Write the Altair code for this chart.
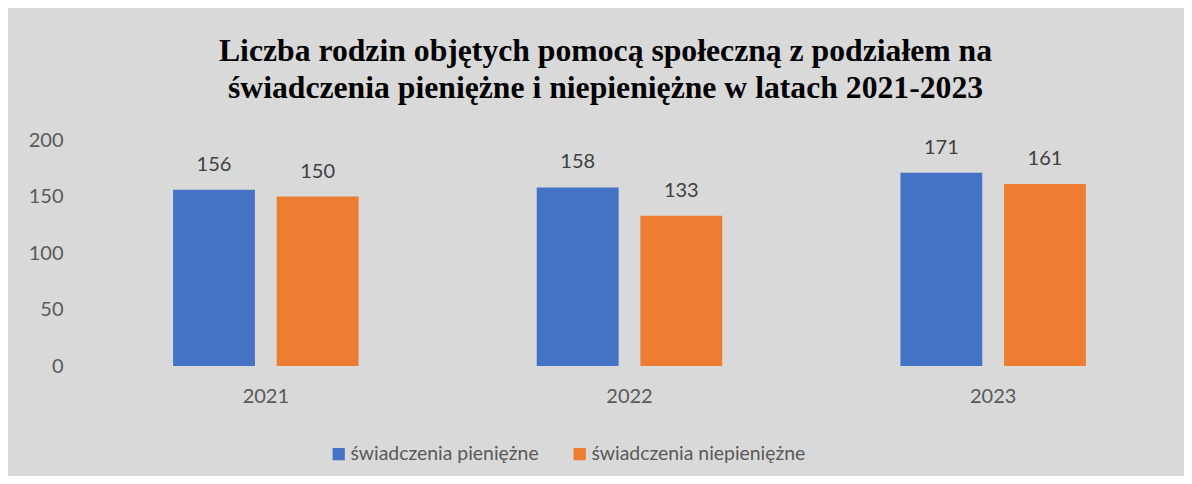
import altair as alt
import pandas as pd

years = ["2021", "2022", "2023"]
series = ["świadczenia pieniężne", "świadczenia niepieniężne"]
pieniezne = [156, 158, 171]
niepieniezne = [150, 133, 161]
colors = ["#4472C4", "#ED7D31"]

rows = []
for i, y in enumerate(years):
    rows.append({"rok": y, "seria": series[0], "wartosc": pieniezne[i]})
    rows.append({"rok": y, "seria": series[1], "wartosc": niepieniezne[i]})
df = pd.DataFrame(rows)

FONT = "Lato"
x = alt.X("rok:N", sort=years, title=None,
          scale=alt.Scale(paddingInner=0.49, paddingOuter=0.245),
          axis=alt.Axis(labelAngle=0, labelFont=FONT, labelFontSize=20,
                        labelColor="#595959", labelPadding=20, ticks=False,
                        domain=False, grid=False))
xoff = alt.XOffset("seria:N", sort=series,
                   scale=alt.Scale(paddingInner=0.21, paddingOuter=0))
y = alt.Y("wartosc:Q", title=None,
          scale=alt.Scale(domain=[0, 200], nice=False),
          axis=alt.Axis(values=[0, 50, 100, 150, 200], labelFont=FONT,
                        labelFontSize=20, labelColor="#595959", labelPadding=21,
                        ticks=False, domain=False, grid=False))
color = alt.Color("seria:N", sort=series,
                  scale=alt.Scale(domain=series, range=colors),
                  legend=alt.Legend(title=None, orient="none", direction="horizontal",
                                    legendX=245, legendY=304,
                                    symbolType="square", symbolSize=150,
                                    symbolStrokeWidth=0, labelFont=FONT,
                                    labelFontSize=19.4, labelColor="#595959",
                                    labelLimit=0,
                                    columnPadding=31, labelOffset=2))

base = alt.Chart(df).encode(x=x, xOffset=xoff, y=y)
bars = base.mark_bar().encode(color=color)
labels = base.mark_text(baseline="bottom", dy=-15, font=FONT, fontSize=20,
                        color="#404040").encode(text="wartosc:Q")

chart = (bars + labels).properties(
    width=1091, height=226,
    title=alt.TitleParams(
        ["Liczba rodzin objętych  pomocą społeczną z podziałem na",
         "świadczenia pieniężne i niepieniężne w latach 2021-2023"],
        font="Liberation Serif", fontSize=31.7, fontWeight="bold", color="#000000",
        anchor="middle", dx=-24, offset=25, lineHeight=37),
    autosize=alt.AutoSizeParams(type="none"),
    padding={"left": 76, "top": 132, "right": 9, "bottom": 110},
    background="#D9D9D9",
).configure_view(stroke=None)

chart.save("out.html", embed_options={"renderer": "svg", "actions": False})
